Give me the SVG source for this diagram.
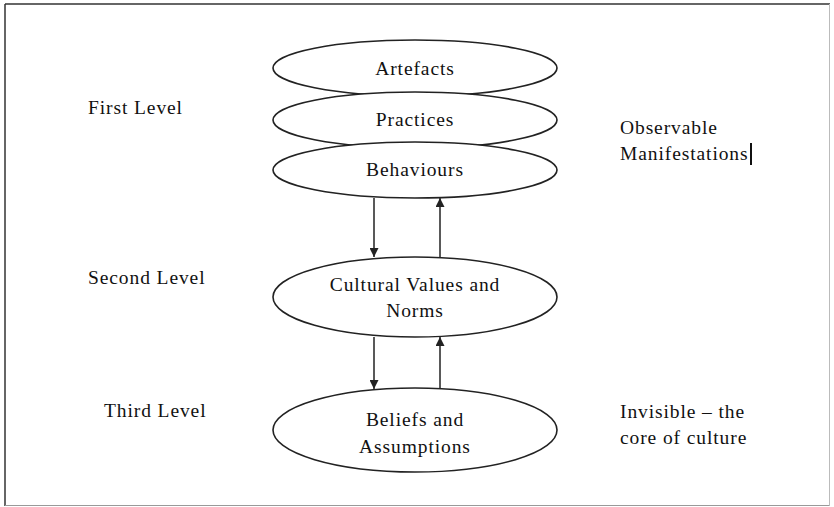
<svg xmlns="http://www.w3.org/2000/svg" width="834" height="507" viewBox="0 0 834 507">
<style>
.e{fill:#fff;stroke:#222;stroke-width:1.6}
.t{font-family:"Liberation Serif","Times New Roman",serif;font-size:19.5px;letter-spacing:0.9px;fill:#111}
.m{text-anchor:middle}
.c{stroke:#222;stroke-width:1.5;fill:none}
</style>
<defs>
<marker id="ah" viewBox="0 0 10 10" refX="10" refY="5" markerWidth="11" markerHeight="9" markerUnits="userSpaceOnUse" orient="auto">
<path d="M0,0 L10,5 L0,10 z" fill="#222"/>
</marker>
</defs>
<rect x="0" y="0" width="834" height="507" fill="#fff"/>
<g id="frame">
<line x1="5" y1="4" x2="830" y2="4" stroke="#333" stroke-width="1.5"/>
<line x1="5" y1="4" x2="5" y2="506" stroke="#333" stroke-width="1.5"/>
<line x1="5" y1="505.5" x2="830" y2="505.5" stroke="#999" stroke-width="1.2"/>
<line x1="829.5" y1="4" x2="829.5" y2="506" stroke="#bbb" stroke-width="1"/>
</g>
<g id="labels">
<text class="t" x="88" y="114">First Level</text>
<text class="t" x="88" y="284">Second Level</text>
<text class="t" x="104" y="417">Third Level</text>
<text class="t" x="620" y="134">Observable</text>
<text class="t" x="620" y="160">Manifestations</text>
<line x1="751" y1="143" x2="751" y2="165" stroke="#111" stroke-width="2"/>
<text class="t" x="620" y="418">Invisible – the</text>
<text class="t" x="620" y="444">core of culture</text>
</g>
<g id="artefacts">
<ellipse class="e" cx="415" cy="68" rx="142" ry="28"/>
<text class="t m" x="415" y="75">Artefacts</text>
</g>
<g id="practices">
<ellipse class="e" cx="415" cy="120" rx="142" ry="28"/>
<text class="t m" x="415" y="126">Practices</text>
</g>
<g id="behaviours">
<ellipse class="e" cx="415" cy="170" rx="142" ry="28"/>
<text class="t m" x="415" y="176">Behaviours</text>
</g>
<g id="values">
<ellipse class="e" cx="415" cy="297" rx="142" ry="40"/>
<text class="t m" x="415" y="291">Cultural Values and</text>
<text class="t m" x="415" y="317">Norms</text>
</g>
<g id="beliefs">
<ellipse class="e" cx="415" cy="430" rx="142" ry="42"/>
<text class="t m" x="415" y="426">Beliefs and</text>
<text class="t m" x="415" y="453">Assumptions</text>
</g>
<g id="connectors">
<line class="c" x1="374" y1="198" x2="374" y2="257" marker-end="url(#ah)"/>
<line class="c" x1="440" y1="257" x2="440" y2="198" marker-end="url(#ah)"/>
<line class="c" x1="374" y1="337" x2="374" y2="389" marker-end="url(#ah)"/>
<line class="c" x1="440" y1="389" x2="440" y2="337" marker-end="url(#ah)"/>
</g>
</svg>
